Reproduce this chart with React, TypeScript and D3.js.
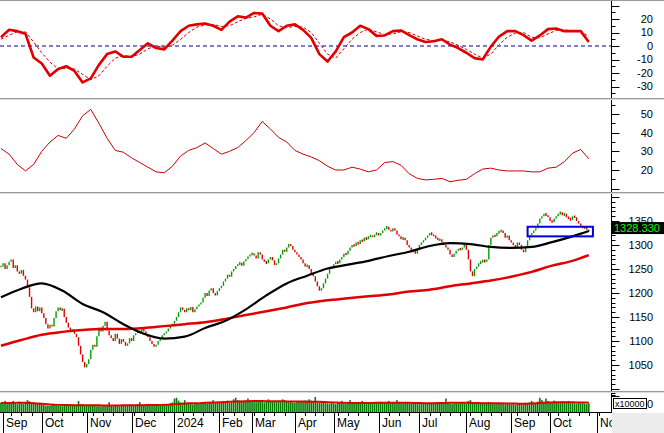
import React from 'react';
import * as d3 from 'd3';

const W = 664;
const H = 433;

// ---------- calendar ----------
const START = '2023-08-31';
const END = '2024-11-08';
const HOLIDAYS = ['2023-09-01', '2023-09-04', '2024-01-01', '2024-02-08', '2024-02-09', '2024-02-12', '2024-02-13', '2024-02-14', '2024-04-18', '2024-04-29', '2024-04-30', '2024-05-01', '2024-09-02', '2024-09-03'];
const MONTHS = ['Jan', 'Feb', 'Mar', 'Apr', 'May', 'Jun', 'Jul', 'Aug', 'Sep', 'Oct', 'Nov', 'Dec'];

// ---------- price (daily closes) ----------
const CLOSE = [
  1255, 1262, 1250, 1258, 1265,
  1270, 1252, 1258, 1245, 1240, 1248, 1236,
  1228, 1212, 1192, 1168,
  1160, 1172, 1162, 1170, 1158,
  1148, 1135, 1126, 1134, 1130,
  1148, 1162, 1170, 1164, 1167,
  1150, 1138, 1128, 1120, 1124, 1115,
  1108, 1090, 1072, 1056, 1045, 1052,
  1062, 1082, 1092, 1088, 1110, 1128, 1120,
  1132, 1140, 1122, 1112, 1106, 1100,
  1115, 1105, 1094, 1104, 1098, 1090, 1095, 1106, 1100, 1112,
  1116, 1122, 1118, 1126, 1120, 1114, 1108, 1100,
  1094, 1088, 1092, 1100,
  1106, 1112, 1116, 1120, 1126, 1132, 1136, 1142, 1150, 1160,
  1170, 1165, 1160, 1168, 1164, 1171, 1160, 1166, 1172, 1176,
  1180, 1190, 1200, 1194, 1205, 1210, 1200, 1195, 1204, 1210,
  1215, 1224, 1230, 1238, 1234, 1245, 1250, 1256, 1260, 1263, 1257, 1266, 1271, 1276, 1280, 1283,
  1278, 1272, 1285, 1280, 1270, 1265, 1262, 1270, 1275, 1268, 1258, 1262, 1272, 1280, 1290, 1286, 1295, 1302, 1298, 1290, 1285,
  1280, 1275, 1270, 1262, 1255, 1258, 1250, 1240, 1235, 1224, 1214, 1205, 1210, 1220, 1230, 1240, 1250, 1255, 1260, 1265,
  1262, 1270, 1275, 1282, 1280, 1288, 1295, 1300, 1298, 1305, 1302, 1310, 1308, 1315, 1312, 1318, 1320, 1316, 1322, 1325, 1320,
  1325, 1330, 1335, 1338, 1332, 1328, 1335, 1330, 1322, 1318, 1312, 1315, 1310, 1300, 1295, 1285, 1290, 1282, 1290, 1300, 1305,
  1310, 1315, 1320, 1325, 1322, 1318, 1315, 1310, 1312, 1305, 1300, 1295, 1290, 1280, 1275, 1282, 1288, 1292, 1290, 1295, 1300, 1290, 1270,
  1245, 1235, 1250, 1255, 1262, 1265, 1268, 1265, 1270, 1300, 1315, 1320, 1318, 1325, 1328,
  1330, 1325, 1315, 1320, 1310, 1305, 1300, 1295, 1305, 1300, 1290, 1285, 1295, 1310, 1320, 1325, 1330, 1335,
  1345, 1355, 1360, 1365, 1362, 1358, 1350, 1348, 1355, 1360, 1365, 1368, 1362, 1365, 1358, 1355, 1352, 1360, 1358, 1350, 1345, 1340, 1335, 1338, 1332, 1328,
];
const LAST_LABEL = '1328.330';

// moving averages, one value every 10 sessions (last one at the final session)
const MA_LONG_BLACK = [1191, 1209, 1220, 1205, 1177, 1160, 1135, 1115, 1105, 1109, 1127, 1142, 1166, 1195, 1220, 1236, 1251, 1259, 1267, 1277, 1286, 1298, 1304, 1302, 1296, 1294, 1296, 1306, 1318, 1329];
const MA_LONG_RED = [1090, 1102, 1113, 1119, 1123, 1125, 1125, 1127, 1131, 1135, 1139, 1146, 1154, 1162, 1170, 1179, 1185, 1189, 1193, 1197, 1203, 1207, 1214, 1220, 1226, 1234, 1244, 1257, 1267, 1279];

// ---------- oscillator panel (every 4 sessions) ----------
const OSC_MAIN = [6.5, 12, 11, 9, -8.5, -13, -22, -17, -15, -18.5, -27, -24, -14, -6, -4, -8, -8, -3, 2, -1.5, -2.5, 4, 11, 15, 16, 16.7, 15, 12, 18, 22, 21, 24.5, 24, 15, 11, 15, 16, 12, 6, -6, -11.5, -4, 6.5, 10, 15, 12.5, 7.5, 7.8, 11, 11.5, 8, 5, 3, 3.5, 5, 1, -1.5, -5, -9, -10, -0.5, 7, 11, 11, 8, 4, 7.8, 12.5, 13, 11, 11, 11, 3];
const OSC_SIGNAL = [5, 8, 10.5, 10.5, 3, -5, -12, -17, -16.5, -17, -21, -25, -22, -15, -9, -7, -8, -6, -2, 0, -1, 0.5, 5, 10, 14, 15.5, 16, 14.5, 15, 18, 20.5, 21.5, 23.5, 20, 15, 13.5, 14.5, 14, 10, 2, -6, -9, -2, 5, 10, 12.5, 10.5, 8.5, 9, 10.5, 10, 7.5, 5, 4, 4.5, 3, 0.5, -2.5, -6, -9, -6, 1, 6.5, 9.5, 10, 6.5, 6, 9, 11.5, 12, 11, 11, 7];
const OSC_TICKS = [20, 10, 0, -10, -20, -30];

// ---------- middle panel (every 4 sessions) ----------
const MID_LINE = [31.5, 28.5, 23, 19.5, 23, 30, 35, 38.5, 37, 42, 49, 52.5, 45, 37, 30.5, 29.5, 26.5, 24, 21.5, 19, 18.5, 22, 27.5, 30.5, 32, 34.5, 31.5, 28.5, 30, 32, 35.8, 40, 46, 42, 37.5, 35, 30.5, 28.5, 27, 25, 22, 20, 20, 21.5, 20.5, 19, 20, 24, 24.5, 22.5, 18, 15.5, 14.7, 15, 15.5, 13.7, 14.5, 15, 18, 20.5, 21, 20, 19.5, 19.5, 19.5, 19, 19, 21, 21.5, 24.5, 29, 31, 26];
const MID_TICKS = [50, 40, 30, 20];

// ---------- volume (x10000) ----------
const VOLUME = [
  60, 55, 70, 52, 58, 62, 70, 55, 50, 65, 58, 52, 60, 75, 68, 55, 62, 58, 50, 54,
  48, 44, 40, 42, 38, 45, 50, 42, 40, 38, 36, 40, 42, 38, 44, 40, 46, 42, 70, 48,
  50, 44, 40, 38, 42, 45, 40, 36, 38, 35, 40, 42, 38, 62, 40, 36, 38, 40, 35, 42,
  44, 40, 42, 46, 40, 38, 44, 48, 62, 42, 45, 40, 44, 38, 42, 46, 50, 44, 40, 48,
  52, 48, 50, 56, 60, 85, 90, 72, 60, 55, 75, 58, 52, 50, 48, 55, 52, 50, 60, 56,
  58, 55, 62, 60, 75, 58, 62, 60, 65, 70, 68, 72, 58, 62, 80, 90, 75, 72, 65, 70,
  72, 85, 70, 68, 65, 62, 70, 66, 72, 60, 64, 80, 70, 68, 66, 62, 70, 65, 80, 75,
  70, 62, 66, 60, 58, 62, 68, 64, 70, 72, 72, 80, 72, 66, 95, 60, 58, 64, 60, 56,
  55, 52, 58, 55, 50, 60, 56, 70, 54, 52, 58, 75, 60, 55, 52, 56, 60, 70, 58, 54,
  56, 52, 55, 60, 58, 62, 65, 60, 58, 56, 70, 62, 60, 58, 75, 60, 56, 55, 62, 58,
  55, 52, 56, 54, 58, 50, 52, 56, 58, 54, 60, 56, 52, 54, 58, 55, 60, 52, 85, 58,
  52, 50, 54, 56, 52, 58, 62, 56, 54, 70, 75, 60, 58, 55, 52, 56, 60, 54, 58, 62,
  58, 54, 50, 52, 55, 50, 52, 48, 54, 50, 48, 52, 46, 50, 54, 48, 52, 58, 56, 60,
  70, 62, 58, 66, 90, 75, 60, 85, 70, 62, 60, 72, 58, 62, 56, 68, 60, 58, 70, 56,
  62, 55, 52, 58, 54, 56, 52, 50, 54,
];
const VOLUME_MA = [57, 57, 58, 58, 56, 52, 48, 45, 44, 43, 42, 42, 42, 41, 41, 42, 42, 43, 44, 44, 45, 48, 52, 55, 56, 58, 60, 62, 64, 66, 68, 69, 69, 68, 68, 67, 66, 66, 65, 64, 62, 60, 58, 57, 57, 57, 58, 58, 59, 59, 58, 57, 56, 56, 57, 58, 59, 58, 57, 56, 56, 55, 54, 53, 52, 54, 57, 60, 62, 62, 61, 60, 59];

// annotation rectangle (session range, price range)
const BOX = { from: 258, to: 290, lo: 1318, hi: 1338 };

const FONT = 'Liberation Sans, Arial, sans-serif';
const UP = '#00a000';
const DOWN = '#e00000';

function tradingDays(): Date[] {
  const hol = new Set(HOLIDAYS);
  const fmt = d3.timeFormat('%Y-%m-%d');
  const out: Date[] = [];
  const d = new Date(START + 'T00:00:00');
  const end = new Date(END + 'T00:00:00');
  while (d <= end) {
    const dow = d.getDay();
    if (dow !== 0 && dow !== 6 && !hol.has(fmt(d))) out.push(new Date(d));
    d.setDate(d.getDate() + 1);
  }
  return out;
}

export default function App() {
  const days = React.useMemo(tradingDays, []);
  const monthIdx: number[] = [];
  const weekIdx: number[] = [];
  days.forEach((d, i) => {
    if (i === 0) return;
    const p = days[i - 1];
    if (d.getMonth() !== p.getMonth()) monthIdx.push(i);
    else if (d.getDay() < p.getDay()) weekIdx.push(i);
  });
  const firstMonth = monthIdx[0];
  const lastMonth = monthIdx[monthIdx.length - 1];

  const AX = 611.5;
  const x = d3.scaleLinear().domain([firstMonth, lastMonth]).range([3, 597]);

  const yOsc = d3.scaleLinear().domain([-30, 20]).range([86.5, 19]);
  const yMid = d3.scaleLinear().domain([20, 50]).range([170, 114]);
  const yPx = d3.scaleLinear().domain([1050, 1300]).range([365, 245]);
  const yVol = d3.scaleLinear().domain([0, 120]).range([412, 393]);

  const n = CLOSE.length;
  const maIdx = d3.range(0, n - 1, 10).concat([n - 1]);
  const sIdx = (k: number) => k * 4;

  const lineOsc = d3.line<number>().x((_, k) => x(sIdx(k))).y((v) => yOsc(v));
  const lineMid = d3.line<number>().x((_, k) => x(sIdx(k))).y((v) => yMid(v));
  const lineVolMa = d3.line<number>().x((_, k) => x(sIdx(k))).y((v) => yVol(v)).curve(d3.curveMonotoneX);
  const lineMa = d3.line<number>().x((_, k) => x(maIdx[k])).y((v) => yPx(v)).curve(d3.curveMonotoneX);

  const candles = CLOSE.map((c, i) => {
    const o = i > 0 ? CLOSE[i - 1] : c;
    let y1 = yPx(Math.max(o, c));
    let y2 = yPx(Math.min(o, c));
    if (y2 - y1 < 1.5) { y1 -= 0.75; y2 += 0.75; }
    return { x: x(i), y1, y2, up: c >= o };
  });

  const sep = (y: number) => (
    <g key={'sep' + y}>
      <rect x={0} y={y} width={W} height={1} fill="#9a9a9a" />
      <rect x={0} y={y + 1} width={W} height={1} fill="#dcdcdc" />
    </g>
  );

  const axisTicks = (scale: d3.ScaleLinear<number, number>, from: number, to: number, step: number, major: number, y0: number, y1: number) => {
    const out: JSX.Element[] = [];
    for (let v = from; v <= to + 1e-9; v += step) {
      const yy = Math.round(scale(v)) + 0.5;
      if (yy < y0 || yy > y1) continue;
      const isMajor = Math.abs(v / major - Math.round(v / major)) < 1e-9;
      out.push(<line key={v} x1={AX} x2={AX + (isMajor ? 8 : 4)} y1={yy} y2={yy} stroke="#000" strokeWidth={1} />);
    }
    return out;
  };

  const label = (txt: string, yy: number, key: string) => (
    <text key={key} x={653} y={yy} dy="0.35em" textAnchor="end" fontSize={11} fontFamily={FONT} fill="#000">{txt}</text>
  );

  const lastY = yPx(CLOSE[n - 1]);

  return (
    <svg width={W} height={H} style={{ position: 'fixed', left: 0, top: 0, background: '#fff' }}>
      <defs>
        <clipPath id="cOsc"><rect x={0} y={1} width={AX} height={97} /></clipPath>
        <clipPath id="cMid"><rect x={0} y={100} width={AX} height={92} /></clipPath>
        <clipPath id="cMain"><rect x={0} y={194} width={AX} height={197} /></clipPath>
        <clipPath id="cVol"><rect x={0} y={393} width={AX} height={19} /></clipPath>
      </defs>
      <rect x={0} y={0} width={W} height={H} fill="#fff" />

      {/* oscillator panel */}
      <g clipPath="url(#cOsc)">
        <line x1={0} x2={AX} y1={yOsc(0)} y2={yOsc(0)} stroke="#000080" strokeWidth={1} strokeDasharray="4,3" />
        <path d={lineOsc(OSC_SIGNAL) || ''} fill="none" stroke="#d00000" strokeWidth={1} strokeDasharray="3,2" />
        <path d={lineOsc(OSC_MAIN) || ''} fill="none" stroke="#e00000" strokeWidth={2.6} strokeLinejoin="round" />
      </g>

      {/* middle panel */}
      <g clipPath="url(#cMid)">
        <path d={lineMid(MID_LINE) || ''} fill="none" stroke="#c80000" strokeWidth={1} />
      </g>

      {/* main price panel */}
      <g clipPath="url(#cMain)">
        {candles.map((c, i) => (
          <line key={i} x1={c.x} x2={c.x} y1={c.y1} y2={c.y2} stroke={c.up ? UP : DOWN} strokeWidth={1.4} />
        ))}
        <path d={lineMa(MA_LONG_RED) || ''} fill="none" stroke="#e00000" strokeWidth={2.5} />
        <path d={lineMa(MA_LONG_BLACK) || ''} fill="none" stroke="#000" strokeWidth={2.2} />
        <rect x={x(BOX.from)} y={yPx(BOX.hi)} width={x(BOX.to) - x(BOX.from)} height={yPx(BOX.lo) - yPx(BOX.hi)} fill="none" stroke="#0000dd" strokeWidth={2} />
      </g>

      {/* volume panel */}
      <g clipPath="url(#cVol)">
        {VOLUME.map((v, i) => (
          <rect key={i} x={x(i) - 0.8} y={yVol(v)} width={1.6} height={412 - yVol(v)} fill="#008000" />
        ))}
        <path d={lineVolMa(VOLUME_MA) || ''} fill="none" stroke="#e00000" strokeWidth={2} />
      </g>

      {/* separators */}
      <rect x={0} y={0} width={W} height={1} fill="#9a9a9a" />
      {sep(98)}
      {sep(192)}
      {sep(391)}

      {/* right axes */}
      <line x1={AX} x2={AX} y1={1} y2={98} stroke="#000" />
      <line x1={AX} x2={AX} y1={100} y2={192} stroke="#000" />
      <line x1={AX} x2={AX} y1={194} y2={391} stroke="#000" />
      <line x1={AX} x2={AX} y1={393} y2={413} stroke="#000" />
      {axisTicks(yOsc, -35, 30, 5, 10, 2, 97)}
      {axisTicks(yMid, 10, 55, 5, 10, 101, 191)}
      {axisTicks(yPx, 1000, 1400, 10, 50, 195, 390)}
      {axisTicks(yVol, 100, 120, 10, 100, 393, 398)}
      {OSC_TICKS.map((v) => label(String(v), yOsc(v), 'o' + v))}
      {MID_TICKS.map((v) => label(String(v), yMid(v), 'm' + v))}
      {d3.range(1050, 1351, 50).map((v) => label(String(v), yPx(v), 'p' + v))}
      {label('100', 404, 'v100')}

      {/* last price tag */}
      <rect x={612} y={lastY - 9.5} width={52} height={12} fill="#000" />
      <text x={614} y={lastY - 3.5} dy="0.35em" fontSize={11} fontFamily={FONT} fill="#00ff00">{LAST_LABEL}</text>

      {/* volume multiplier box */}
      <rect x={613.5} y={398.5} width={33} height={10} fill="#fff" stroke="#000" strokeWidth={1} />
      <text x={615} y={406.5} fontSize={9} fontFamily={FONT} fill="#000">x10000</text>

      {/* x axis */}
      <line x1={0} x2={612} y1={412.5} y2={412.5} stroke="#000" />
      {weekIdx.filter((i) => x(i) < 611).map((i) => (
        <line key={'w' + i} x1={Math.round(x(i)) + 0.5} x2={Math.round(x(i)) + 0.5} y1={412} y2={416} stroke="#000" />
      ))}
      {monthIdx.map((i) => {
        const d = days[i];
        const txt = d.getMonth() === 0 ? String(d.getFullYear()) : MONTHS[d.getMonth()];
        const xx = Math.round(x(i)) + 0.5;
        return (
          <g key={'m' + i}>
            <line x1={xx} x2={xx} y1={412} y2={433} stroke="#000" />
            <text x={xx + 2.5} y={427} fontSize={12} fontFamily={FONT} fill="#000">{txt}</text>
          </g>
        );
      })}
      <rect x={612} y={413} width={52} height={20} fill="#ececec" />
    </svg>
  );
}
